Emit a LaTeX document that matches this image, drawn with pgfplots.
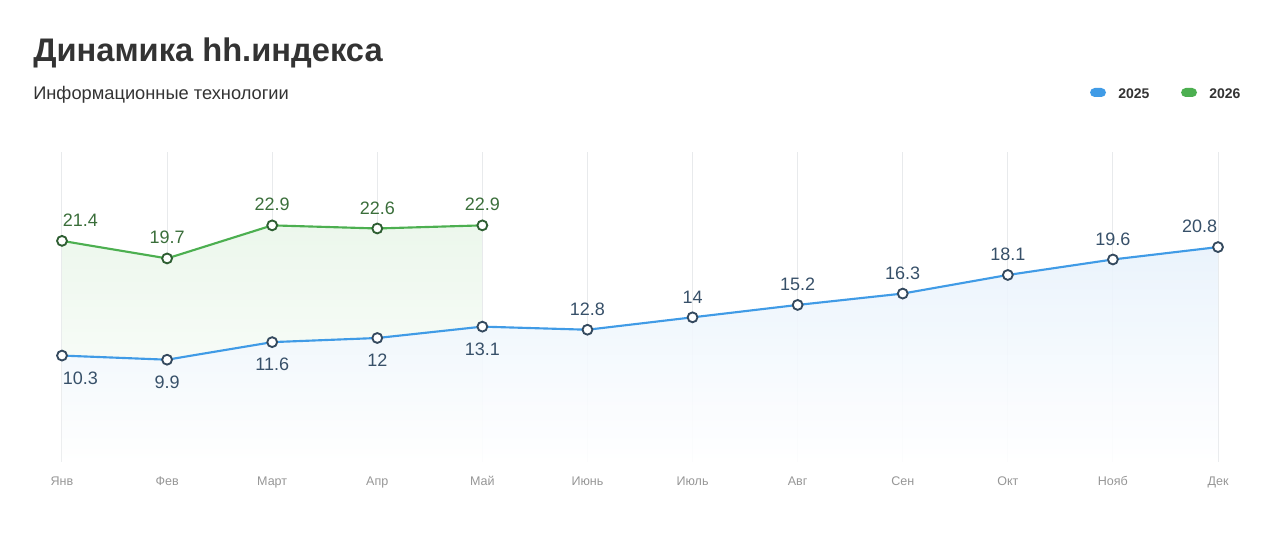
\documentclass[border=0pt]{standalone}
\usepackage{fontspec}
\setmainfont{Liberation Sans}
\usepackage{pgfplots}
\pgfplotsset{compat=1.18}
\definecolor{blueline}{RGB}{64,155,230}
\definecolor{greenline}{RGB}{76,175,80}
\definecolor{bluemark}{RGB}{52,73,94}
\definecolor{greenmark}{RGB}{46,94,50}
\definecolor{bluelab}{RGB}{55,80,105}
\definecolor{greenlab}{RGB}{58,110,58}
\definecolor{titlec}{RGB}{51,51,51}
\definecolor{tickc}{RGB}{150,150,150}
\definecolor{gridc}{RGB}{232,234,236}
\definecolor{bluefill}{RGB}{232,242,252}
\definecolor{greenfill}{RGB}{236,247,236}
\begin{document}
\begin{tikzpicture}[x=0.75pt,y=0.75pt]
\path[use as bounding box] (0,0) rectangle (1280,543);
% title and subtitle
\node[anchor=base west,inner sep=0,text=titlec,font=\fontsize{24.5pt}{28pt}\selectfont\bfseries] at (33,481) {Динамика hh.индекса};
\node[anchor=base west,inner sep=0,text=titlec,font=\fontsize{13.7pt}{16pt}\selectfont] at (33,443) {Информационные технологии};
% legend
\fill[blueline, rounded corners=3.5pt] (1090,446) rectangle (1106,455);
\node[anchor=base west,inner sep=0,text=titlec,font=\fontsize{10.5pt}{12pt}\selectfont\bfseries] at (1118,444) {2025};
\fill[greenline, rounded corners=3.5pt] (1181,446) rectangle (1197,455);
\node[anchor=base west,inner sep=0,text=titlec,font=\fontsize{10.5pt}{12pt}\selectfont\bfseries] at (1209,444) {2026};
\begin{axis}[
  at={(46.5pt,60.75pt)}, anchor=south west,
  scale only axis, width=867pt, height=232.5pt,
  xmin=0, xmax=11, ymin=0, ymax=30,
  hide y axis,
  axis x line*=bottom,
  x axis line style={draw=none},
  xtick={0,1,2,3,4,5,6,7,8,9,10,11},
  xticklabels={Янв,Фев,Март,Апр,Май,Июнь,Июль,Авг,Сен,Окт,Нояб,Дек},
  major tick length=0pt,
  xticklabel style={font=\fontsize{9.4pt}{11pt}\selectfont, text=tickc, anchor=north, text height=7pt, text depth=2pt, yshift=-7pt},
  xmajorgrids, grid style={gridc, line width=0.75pt},
  clip=false,
  point meta=explicit symbolic,
  every node near coord/.append style={font=\fontsize{13.5pt}{16pt}\selectfont, inner sep=0pt},
]
% fills
\addplot[draw=none, top color=greenfill, bottom color=white, forget plot]
  coordinates {(0,21.4) (1,19.7) (2,22.9) (3,22.6) (4,22.9)} \closedcycle;
\addplot[draw=none, top color=bluefill, bottom color=white, fill opacity=0.9, forget plot]
  coordinates {(0,10.3) (1,9.9) (2,11.6) (3,12) (4,13.1) (5,12.8) (6,14) (7,15.2) (8,16.3) (9,18.1) (10,19.6) (11,20.8)} \closedcycle;
% 2025
\addplot[blueline, line width=1.6pt, mark=*, mark size=3.7pt,
  mark options={fill=white, draw=bluemark, line width=1.4pt},
  nodes near coords,
  every node near coord/.append style={text=bluelab},
  coordinate style/.condition={x<4.5}{anchor=north, yshift=-11.5pt},
  coordinate style/.condition={x>4.5}{anchor=south, yshift=10pt},
  coordinate style/.condition={x<0.5}{anchor=north west},
  coordinate style/.condition={x>10.5}{anchor=south east},
] coordinates {
  (0,10.3) [10.3] (1,9.9) [9.9] (2,11.6) [11.6] (3,12) [12] (4,13.1) [13.1]
  (5,12.8) [12.8] (6,14) [14] (7,15.2) [15.2] (8,16.3) [16.3] (9,18.1) [18.1]
  (10,19.6) [19.6] (11,20.8) [20.8]};
% 2026
\addplot[greenline, line width=1.6pt, mark=*, mark size=3.7pt,
  mark options={fill=white, draw=greenmark, line width=1.4pt},
  nodes near coords,
  every node near coord/.append style={text=greenlab},
  coordinate style/.condition={x>0.5}{anchor=south, yshift=10pt},
  coordinate style/.condition={x<0.5}{anchor=south west, yshift=10pt},
] coordinates {
  (0,21.4) [21.4] (1,19.7) [19.7] (2,22.9) [22.9] (3,22.6) [22.6] (4,22.9) [22.9]};
\end{axis}
\end{tikzpicture}
\end{document}
